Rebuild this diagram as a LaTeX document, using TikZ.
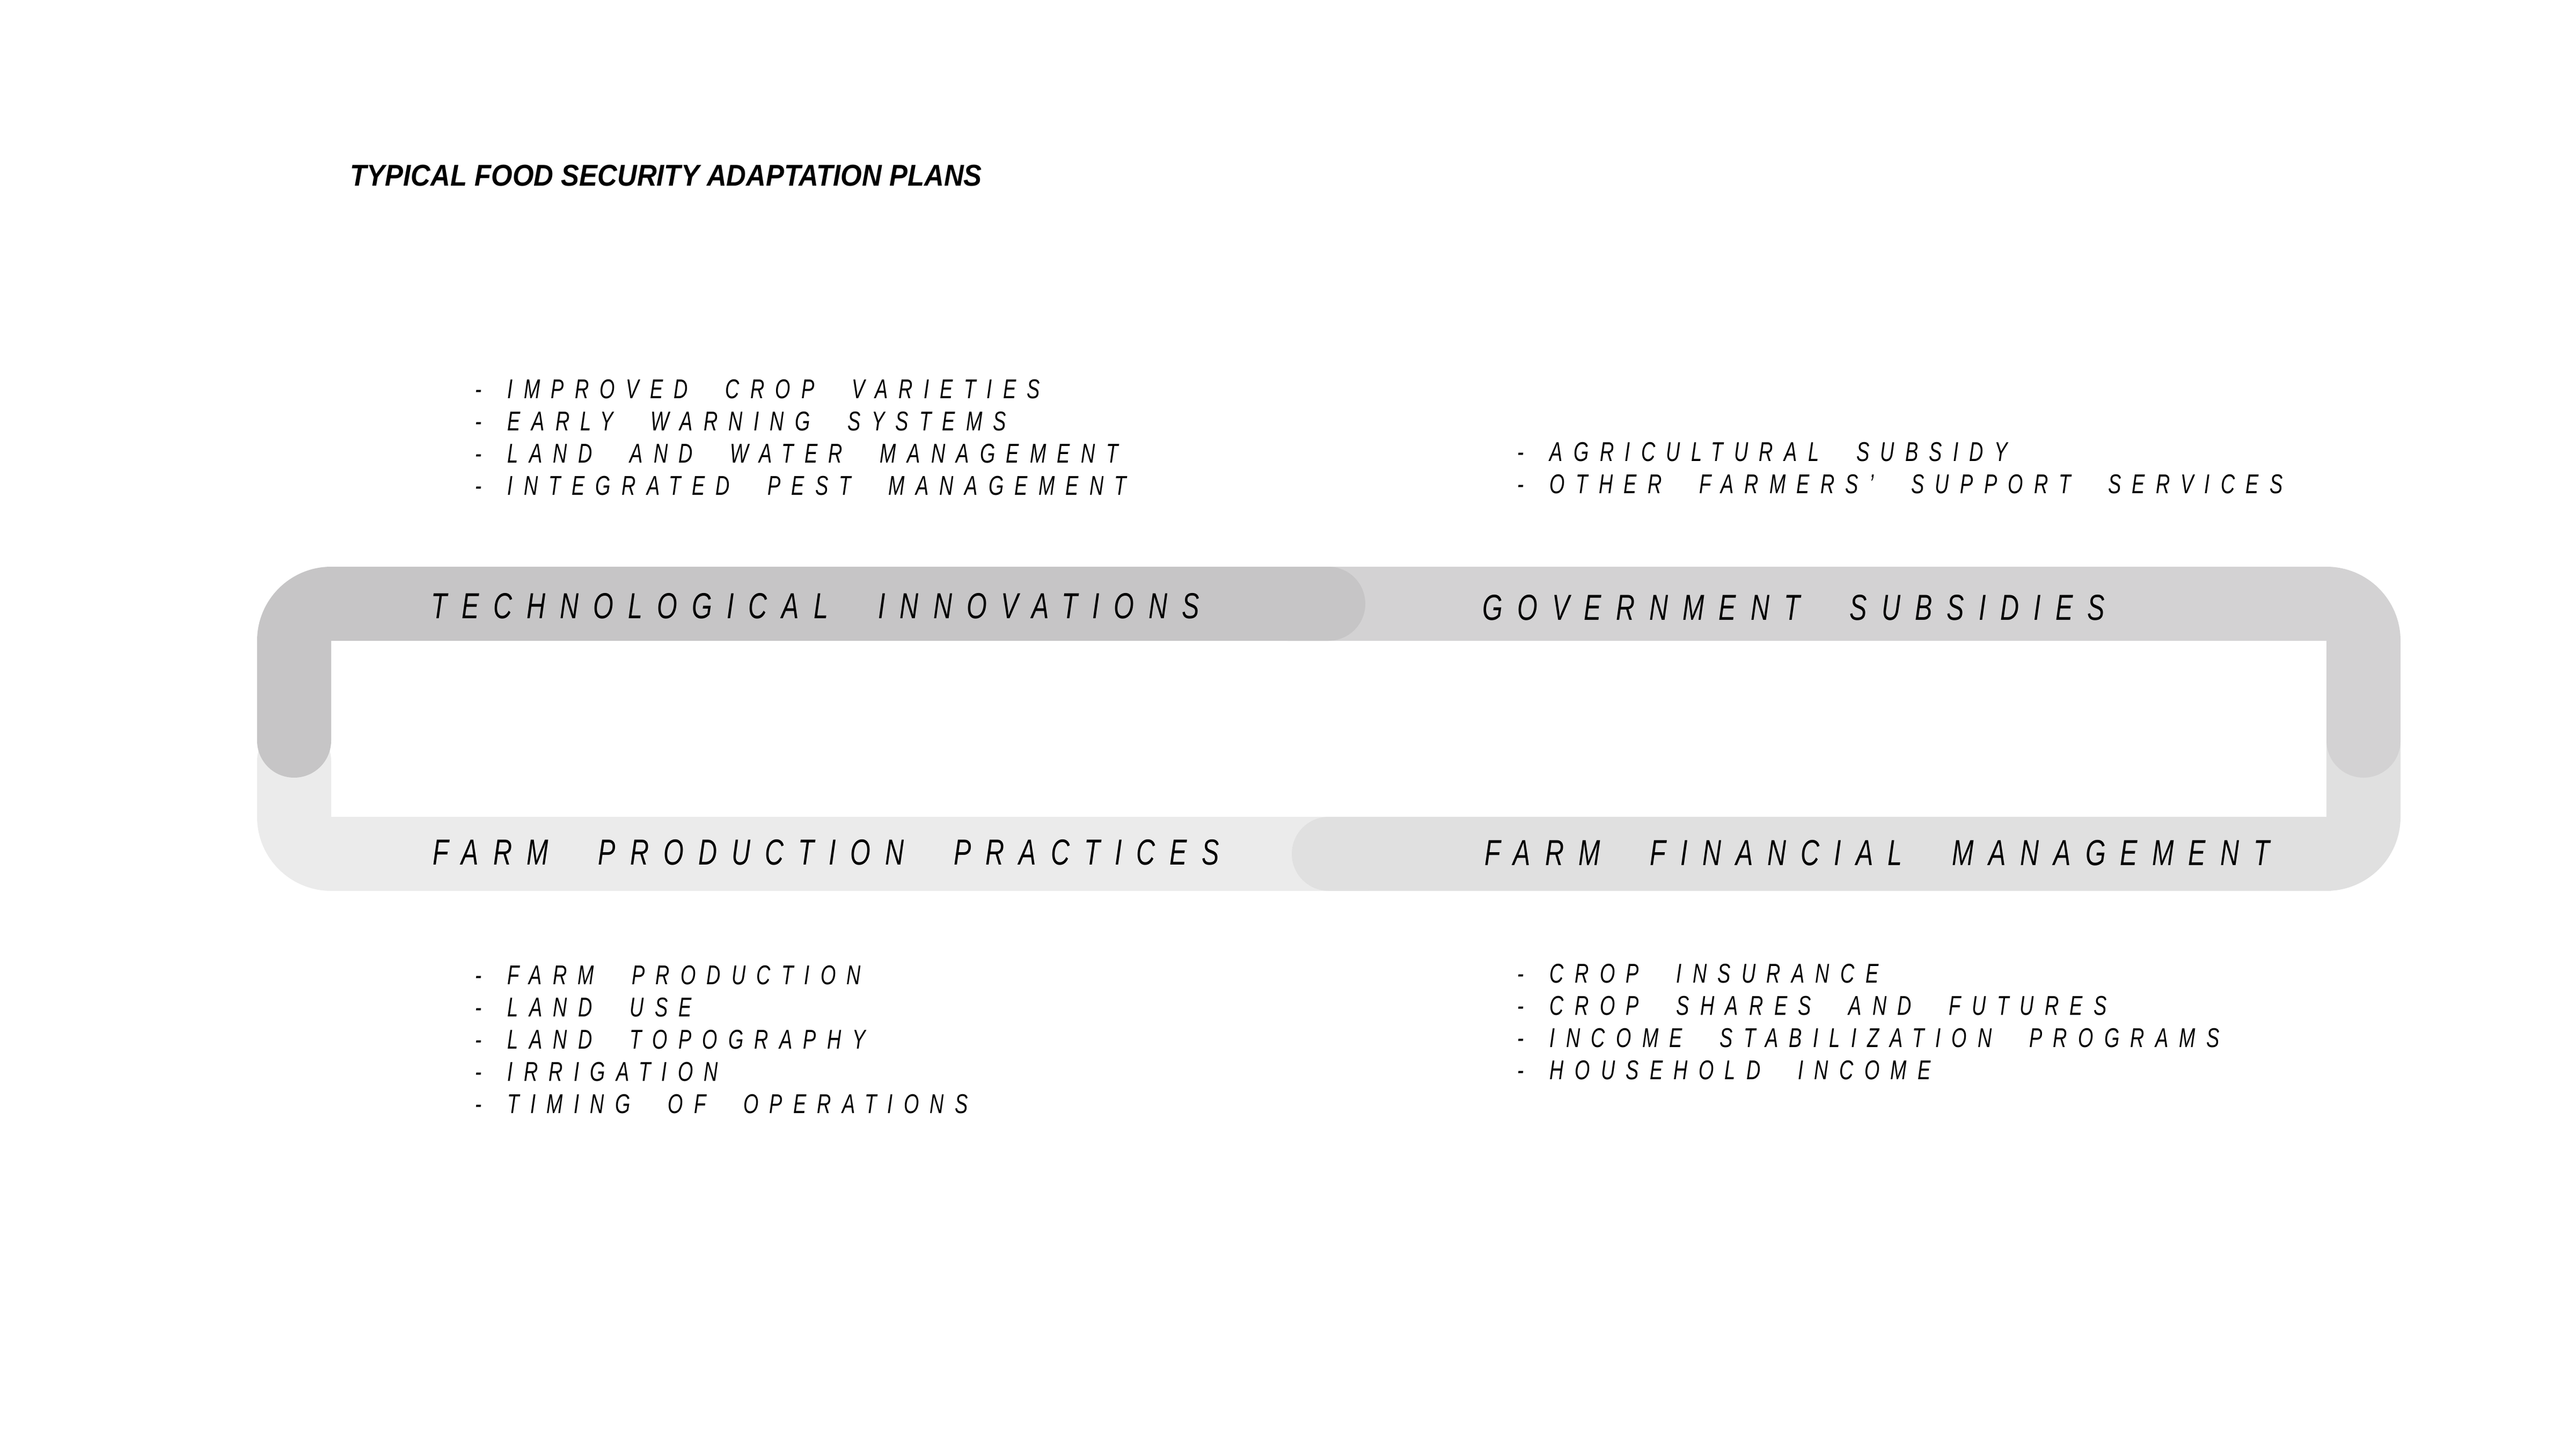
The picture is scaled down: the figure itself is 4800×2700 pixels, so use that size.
\documentclass[tikz,border=0pt]{standalone}
\usepackage{fontspec}
\setmainfont{Liberation Sans}
\newfontfamily\bandfont{Liberation Sans}[FakeStretch=0.72, LetterSpace=40, WordSpace=2.7]
\newfontfamily\listfont{Liberation Sans}[FakeStretch=0.72, LetterSpace=40, WordSpace=2.3]
\newfontfamily\titlefont{Liberation Sans}[FakeStretch=0.905]
\definecolor{techgray}{HTML}{C6C5C6}
\definecolor{govgray}{HTML}{D3D2D3}
\definecolor{fingray}{HTML}{E0E0E0}
\definecolor{farmgray}{HTML}{EBEBEB}

\begin{document}
\begin{tikzpicture}[x=0.1mm, y=-0.1mm,
  band/.style={line width=13.8mm, line cap=round, rounded corners=6.9mm},
  bandlabel/.style={anchor=base west, inner sep=0pt, font=\bandfont\itshape\fontsize{19.2}{23}\selectfont},
  listitem/.style={anchor=base west, inner sep=0pt, font=\listfont\itshape\fontsize{14.4}{17}\selectfont}]
\useasboundingbox (0,0) rectangle (4800,2700);
\fill[white] (0,0) rectangle (4800,2700);

\node[anchor=base west, inner sep=0pt, font=\titlefont\bfseries\itshape\fontsize{16}{19}\selectfont] (title) at (652,347) {TYPICAL FOOD SECURITY ADAPTATION PLANS};

% the four bands, lowest first
\draw[band, farmgray] (2550,1591) -- (548,1591) -- (548,1418);
\draw[band, fingray] (2476,1591) -- (4404,1591) -- (4404,1390);
\draw[band, govgray] (2400,1125) -- (4404,1125) -- (4404,1380);
\draw[band, techgray] (2475,1125) -- (548,1125) -- (548,1380);

\node[bandlabel] (tech) at (803,1152) {TECHNOLOGICAL INNOVATIONS};
\node[bandlabel] (gov) at (2762,1155) {GOVERNMENT SUBSIDIES};
\node[bandlabel] (farm) at (806,1611) {FARM PRODUCTION PRACTICES};
\node[bandlabel] (fin) at (2766,1612) {FARM FINANCIAL MANAGEMENT};

% lists
\foreach \txt [count=\i] in {IMPROVED CROP VARIETIES, EARLY WARNING SYSTEMS, LAND AND WATER MANAGEMENT, INTEGRATED PEST MANAGEMENT}
	\node[listitem] (techitem\i) at (885,{682+60*\i}) {-\hspace{0.95em}\txt};
\foreach \txt [count=\i] in {AGRICULTURAL SUBSIDY, OTHER FARMERS’ SUPPORT SERVICES}
	\node[listitem] (govitem\i) at (2827,{799+60*\i}) {-\hspace{0.95em}\txt};
\foreach \txt [count=\i] in {FARM PRODUCTION, LAND USE, LAND TOPOGRAPHY, IRRIGATION, TIMING OF OPERATIONS}
	\node[listitem] (farmitem\i) at (885,{1774+60*\i}) {-\hspace{0.95em}\txt};
\foreach \txt [count=\i] in {CROP INSURANCE, CROP SHARES AND FUTURES, INCOME STABILIZATION PROGRAMS, HOUSEHOLD INCOME}
	\node[listitem] (finitem\i) at (2827,{1771+60*\i}) {-\hspace{0.95em}\txt};
\end{tikzpicture}
\end{document}
